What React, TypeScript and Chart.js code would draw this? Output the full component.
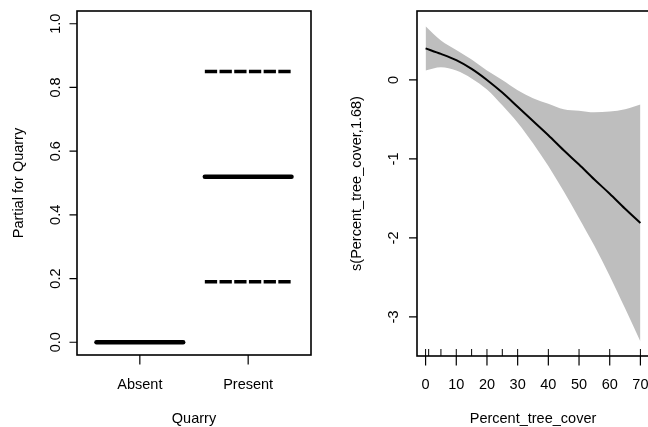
import React, { useEffect, useRef } from 'react';
import { Chart, registerables } from 'chart.js';

Chart.register(...registerables);

// ---------- Left panel: parametric term "Quarry" ----------
const quarryLevels = ['Absent', 'Present'];
const quarryFit = [0, 0.52];
const quarryUpper: (number | null)[] = [null, 0.85];
const quarryLower: (number | null)[] = [null, 0.19];
const quarryYTicks = [0, 0.2, 0.4, 0.6, 0.8, 1.0];
const quarryYTickLabels = ['0.0', '0.2', '0.4', '0.6', '0.8', '1.0'];

// ---------- Right panel: smooth term s(Percent_tree_cover, 1.68) ----------
const treeCover = [0, 5, 10, 15, 20, 25, 30, 35, 40, 45, 50, 55, 60, 65, 70];
const smoothFit = [0.4, 0.33, 0.25, 0.14, 0.0, -0.16, -0.34, -0.52, -0.7, -0.89, -1.07, -1.26, -1.44, -1.63, -1.81];
const smoothUpper = [0.68, 0.5, 0.38, 0.26, 0.12, 0.0, -0.13, -0.23, -0.3, -0.37, -0.39, -0.41, -0.4, -0.37, -0.31];
const smoothLower = [0.12, 0.16, 0.12, 0.02, -0.12, -0.32, -0.54, -0.8, -1.09, -1.41, -1.75, -2.1, -2.48, -2.89, -3.31];
const treeRug = [0, 1, 5, 10, 15, 20, 25, 30, 40, 50, 60, 70];
const treeXTicks = [0, 10, 20, 30, 40, 50, 60, 70];
const treeXTickLabels = ['0', '10', '20', '30', '40', '50', '60', '70'];
const treeYTicks = [0, -1, -2, -3];
const treeYTickLabels = ['0', '-1', '-2', '-3'];

const FONT = '14.5px "Liberation Sans", Arial, Helvetica, sans-serif';

const rAxesPlugin = {
  id: 'rAxes',
  afterDraw(chart: any, _args: any, opts: any) {
    const { ctx, chartArea: a } = chart;
    const xs = chart.scales.x;
    const ys = chart.scales.y;
    ctx.save();
    ctx.strokeStyle = '#000';
    // rug
    if (opts.rug) {
      ctx.lineWidth = 1;
      ctx.beginPath();
      opts.rug.forEach((v: number) => {
        const px = xs.getPixelForValue(v);
        ctx.moveTo(px, a.bottom);
        ctx.lineTo(px, a.bottom - opts.rugLen);
      });
      ctx.stroke();
    }
    // box
    ctx.lineWidth = 1.6;
    ctx.strokeRect(a.left, a.top, a.right - a.left, a.bottom - a.top);
    // ticks
    ctx.lineWidth = 1.2;
    ctx.beginPath();
    opts.xTicks.forEach((v: number) => {
      const px = xs.getPixelForValue(v);
      ctx.moveTo(px, a.bottom);
      ctx.lineTo(px, a.bottom + opts.xTickLen);
    });
    opts.yTicks.forEach((v: number) => {
      const py = ys.getPixelForValue(v);
      ctx.moveTo(a.left, py);
      ctx.lineTo(a.left - opts.yTickLen, py);
    });
    ctx.stroke();
    // labels
    ctx.fillStyle = '#000';
    ctx.font = FONT;
    ctx.textAlign = 'center';
    ctx.textBaseline = 'alphabetic';
    opts.xTicks.forEach((v: number, i: number) => {
      ctx.fillText(opts.xLabels[i], xs.getPixelForValue(v), a.bottom + opts.xLabelDy);
    });
    ctx.fillText(opts.xTitle, (a.left + a.right) / 2, a.bottom + opts.xTitleDy);
    opts.yTicks.forEach((v: number, i: number) => {
      ctx.save();
      ctx.translate(a.left - opts.yLabelDx, ys.getPixelForValue(v));
      ctx.rotate(-Math.PI / 2);
      ctx.fillText(opts.yLabels[i], 0, 0);
      ctx.restore();
    });
    ctx.save();
    ctx.translate(opts.yTitleX, (a.top + a.bottom) / 2);
    ctx.rotate(-Math.PI / 2);
    ctx.fillText(opts.yTitle, 0, 0);
    ctx.restore();
    ctx.restore();
  },
};

function buildQuarryConfig(): any {
  const datasets: any[] = [];
  quarryLevels.forEach((lev, i) => {
    const c = i + 1;
    datasets.push({
      label: lev + ' fit',
      data: [
        { x: c - 0.4, y: quarryFit[i] },
        { x: c + 0.4, y: quarryFit[i] },
      ],
      borderColor: '#000',
      borderWidth: 4.5,
      borderCapStyle: 'round',
      pointRadius: 0,
      fill: false,
    });
    [quarryUpper[i], quarryLower[i]].forEach((v, k) => {
      if (v === null) return;
      datasets.push({
        label: lev + (k === 0 ? ' upper' : ' lower'),
        data: [
          { x: c - 0.4, y: v },
          { x: c + 0.4, y: v },
        ],
        borderColor: '#000',
        borderWidth: 3.5,
        borderDash: [12.3, 2.4],
        borderCapStyle: 'butt',
        pointRadius: 0,
        fill: false,
      });
    });
  });
  return {
    type: 'line',
    data: { datasets },
    options: {
      animation: false,
      responsive: false,
      devicePixelRatio: 1,
      events: [],
      layout: { padding: { left: 77, top: 11, right: 19, bottom: 72 } },
      scales: {
        x: { type: 'linear', min: 0.42, max: 2.58, display: false },
        y: { type: 'linear', min: -0.04, max: 1.04, display: false },
      },
      plugins: {
        legend: { display: false },
        tooltip: { enabled: false },
        rAxes: {
          xTicks: [1, 2],
          xLabels: quarryLevels,
          yTicks: quarryYTicks,
          yLabels: quarryYTickLabels,
          xTitle: 'Quarry',
          yTitle: 'Partial for Quarry',
          xTickLen: 9.5,
          yTickLen: 7.5,
          xLabelDy: 33.5,
          xTitleDy: 68,
          yLabelDx: 17.5,
          yTitleX: 22.5,
        },
      },
    },
    plugins: [rAxesPlugin],
  };
}

function buildTreeConfig(): any {
  const pts = (ys: number[]) => treeCover.map((x, i) => ({ x, y: ys[i] }));
  return {
    type: 'line',
    data: {
      datasets: [
        {
          label: 'fit',
          data: pts(smoothFit),
          borderColor: '#000',
          borderWidth: 2,
          pointRadius: 0,
          cubicInterpolationMode: 'monotone',
          fill: false,
          order: 0,
        },
        {
          label: 'upper',
          data: pts(smoothUpper),
          borderWidth: 0,
          borderColor: 'rgba(0,0,0,0)',
          backgroundColor: '#bebebe',
          pointRadius: 0,
          cubicInterpolationMode: 'monotone',
          fill: '+1',
          order: 1,
        },
        {
          label: 'lower',
          data: pts(smoothLower),
          borderWidth: 0,
          borderColor: 'rgba(0,0,0,0)',
          pointRadius: 0,
          cubicInterpolationMode: 'monotone',
          fill: false,
          order: 2,
        },
      ],
    },
    options: {
      animation: false,
      responsive: false,
      devicePixelRatio: 1,
      events: [],
      layout: { padding: { left: 87, top: 11, right: 11, bottom: 71 } },
      scales: {
        x: { type: 'linear', min: -2.8, max: 72.8, display: false },
        y: { type: 'linear', min: -3.494, max: 0.873, display: false },
      },
      plugins: {
        legend: { display: false },
        tooltip: { enabled: false },
        filler: { drawTime: 'beforeDatasetsDraw' },
        rAxes: {
          xTicks: treeXTicks,
          xLabels: treeXTickLabels,
          yTicks: treeYTicks,
          yLabels: treeYTickLabels,
          xTitle: 'Percent_tree_cover',
          yTitle: 's(Percent_tree_cover,1.68)',
          rug: treeRug,
          rugLen: 7,
          xTickLen: 9.5,
          yTickLen: 8,
          xLabelDy: 33,
          xTitleDy: 67,
          yLabelDx: 19.5,
          yTitleX: 31,
        },
      },
    },
    plugins: [rAxesPlugin],
  };
}

function Panel({ left, width, build }: { left: number; width: number; build: () => any }) {
  const ref = useRef<HTMLCanvasElement | null>(null);
  useEffect(() => {
    if (!ref.current) return;
    const chart = new Chart(ref.current, build());
    return () => chart.destroy();
  }, [build]);
  return (
    <canvas
      ref={ref}
      width={width}
      height={427}
      style={{ position: 'absolute', left, top: 0, width, height: 427, display: 'block' }}
    />
  );
}

export default function App() {
  return (
    <div
      style={{
        position: 'fixed',
        left: 0,
        top: 0,
        width: 648,
        height: 427,
        overflow: 'hidden',
        background: '#fff',
      }}
    >
      <Panel left={0} width={330} build={buildQuarryConfig} />
      <Panel left={330} width={330} build={buildTreeConfig} />
    </div>
  );
}
